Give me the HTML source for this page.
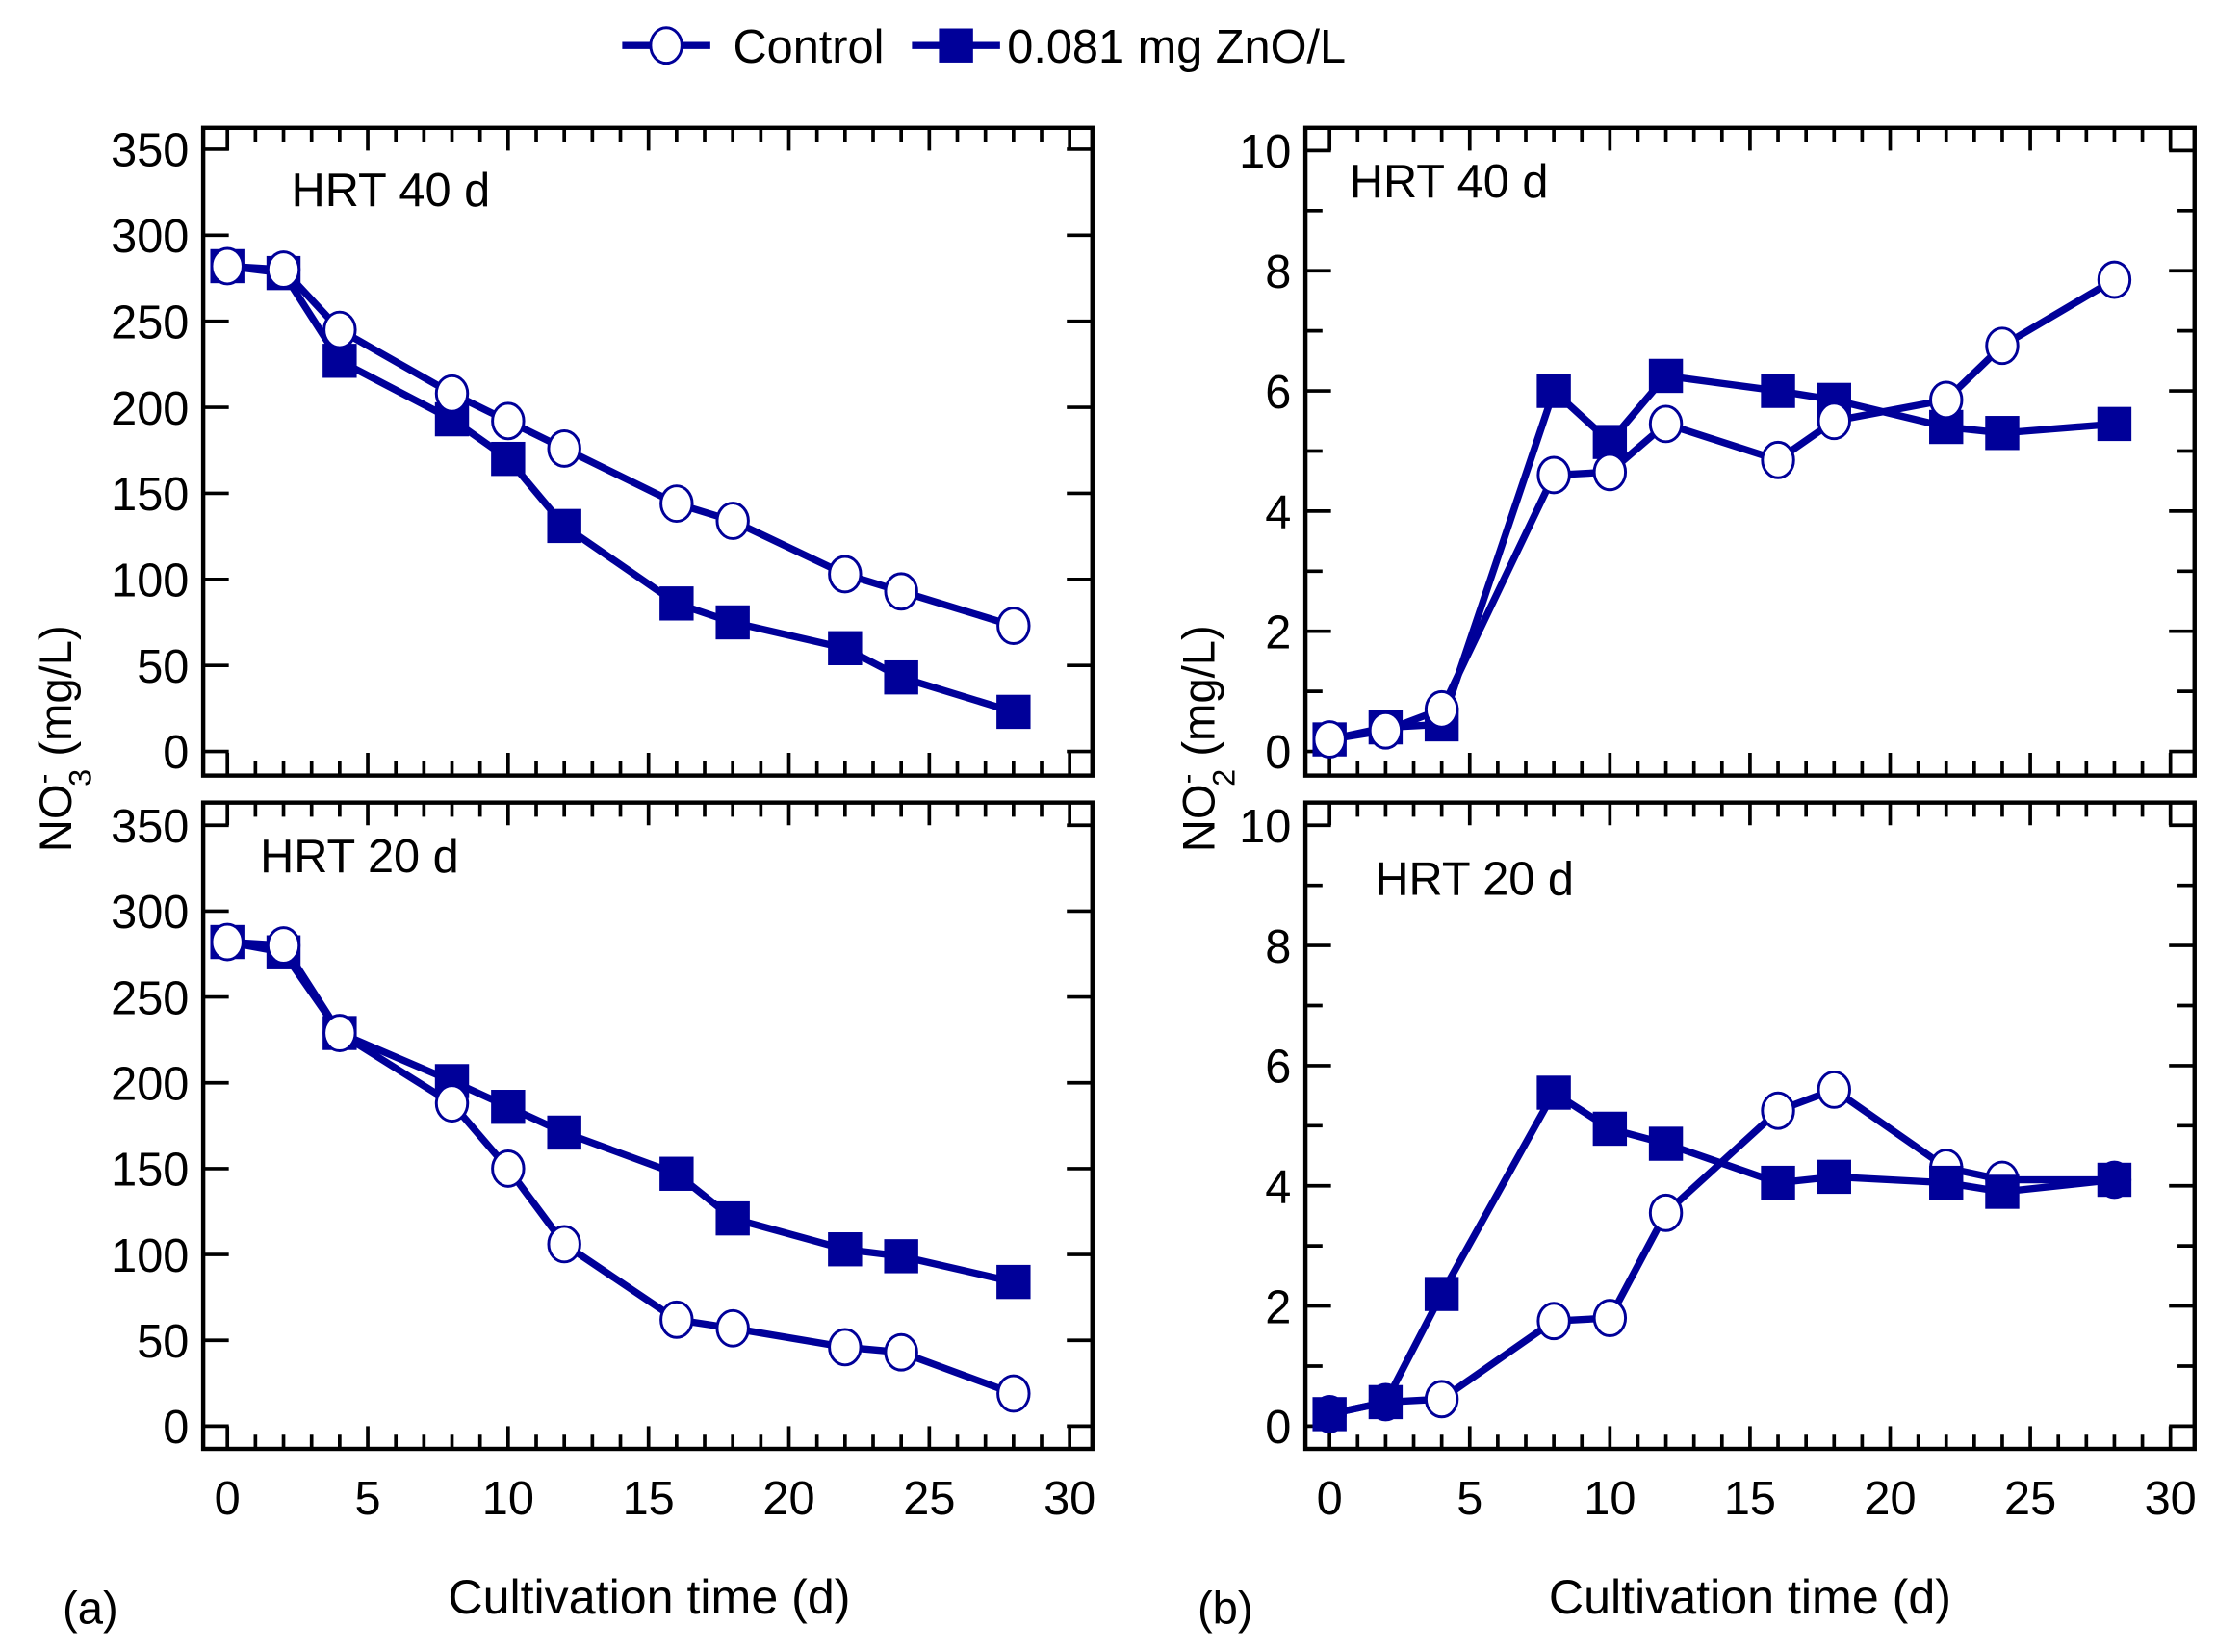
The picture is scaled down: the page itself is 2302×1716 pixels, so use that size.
<!DOCTYPE html>
<html><head><meta charset="utf-8"><style>
html,body{margin:0;padding:0;background:#fff}
svg{display:block}
text{font-family:"Liberation Sans",sans-serif;fill:#000}
</style></head><body>
<svg id="s" width="2302" height="1716" viewBox="0 0 1560 1163" xmlns="http://www.w3.org/2000/svg"></svg>
<script>
const S=document.getElementById('s');let h='';
const C='#000099';
function panel(o){
 const {L,R,T,B,x0,x30,y0,yTop,ymax,ymaj,ymin,labels}=o;
 const X=d=>x0+(x30-x0)*d/30, Y=v=>y0+(yTop-y0)*v/ymax;
 h+=`<rect x="${L}" y="${T}" width="${R-L}" height="${B-T}" fill="none" stroke="#000" stroke-width="3"/>`;
 for(let d=0;d<=30;d++){const x=X(d),len=d%5==0?16:10;
  h+=`<line x1="${x}" y1="${B}" x2="${x}" y2="${B-len}" stroke="#000" stroke-width="2.5"/><line x1="${x}" y1="${T}" x2="${x}" y2="${T+len}" stroke="#000" stroke-width="2.5"/>`;}
 for(let v=0;v<=ymax+1e-9;v+=ymin){const y=Y(v),maj=Math.abs(v/ymaj-Math.round(v/ymaj))<1e-6,len=maj?18:12;
  h+=`<line x1="${L}" y1="${y}" x2="${L+len}" y2="${y}" stroke="#000" stroke-width="2.5"/><line x1="${R}" y1="${y}" x2="${R-len}" y2="${y}" stroke="#000" stroke-width="2.5"/>`;
  if(maj) h+=`<text x="${L-10}" y="${y+12}" font-size="33" text-anchor="end">${Math.round(v)}</text>`;}
 if(labels) for(let d=0;d<=30;d+=5) h+=`<text x="${X(d)}" y="${B+46}" font-size="33" text-anchor="middle">${d}</text>`;
 const line=(pts)=>`<polyline points="${pts.map(p=>X(p[0])+','+Y(p[1])).join(' ')}" fill="none" stroke="${C}" stroke-width="5" stroke-linejoin="round"/>`;
 const sq=pts=>pts.map(p=>`<rect x="${X(p[0])-12}" y="${Y(p[1])-12}" width="24" height="24" fill="${C}"/>`).join('');
 const ci=pts=>pts.map(p=>`<ellipse cx="${X(p[0])}" cy="${Y(p[1])}" rx="11" ry="12.5" fill="#fff" stroke="${C}" stroke-width="2"/>`).join('');
 h+=line(o.z)+line(o.c);
 if(o.sqTop) h+=ci(o.c)+sq(o.z); else h+=sq(o.z)+ci(o.c);
 h+=`<text x="${o.lx}" y="${o.ly}" font-size="33">${o.lab}</text>`;
}
const D=[0,2,4,8,10,12,16,18,22,24,28];
const z=a=>D.map((d,i)=>[d,a[i]]);
panel({L:143,R:769,T:90,B:546,x0:160,x30:753,y0:529,yTop:105,ymax:350,ymaj:50,ymin:50,labels:false,
 c:z([282,280,245,208,192,176,144,134,103,93,73]),z:z([282,278,227,193,170,131,86,75,60,43,23]),lab:'HRT 40 d',lx:205,ly:145});
panel({L:143,R:769,T:565,B:1020,x0:160,x30:753,y0:1004,yTop:581,ymax:350,ymaj:50,ymin:50,labels:true,
 c:z([282,280,229,188,150,106,62,57,46,43,19]),z:z([282,276,229,201,186,171,147,121,103,99,84]),lab:'HRT 20 d',lx:183,ly:614});
panel({L:919,R:1545,T:90,B:546,x0:936,x30:1528,y0:529,yTop:106,ymax:10,ymaj:2,ymin:1,labels:false,
 c:z([0.2,0.35,0.7,4.6,4.65,5.45,4.85,5.5,5.85,6.75,7.85]),z:z([0.2,0.4,0.45,6.0,5.15,6.25,6.0,5.85,5.4,5.3,5.45]),lab:'HRT 40 d',lx:950,ly:139});
panel({L:919,R:1545,T:565,B:1020,x0:936,x30:1528,y0:1004,yTop:581,ymax:10,ymaj:2,ymin:1,labels:true,sqTop:true,
 c:z([0.2,0.4,0.45,1.75,1.8,3.55,5.25,5.6,4.3,4.1,4.1]),z:z([0.2,0.4,2.2,5.55,4.95,4.7,4.05,4.15,4.05,3.9,4.1]),lab:'HRT 20 d',lx:968,ly:630});
h+=`<text transform="translate(50,520) rotate(-90)" font-size="32" text-anchor="middle">NO<tspan dy="-12" font-size="22">-</tspan><tspan dx="-9" dy="26" font-size="22">3</tspan><tspan dy="-14"> (mg/L)</tspan></text>`;
h+=`<text transform="translate(855,520) rotate(-90)" font-size="32" text-anchor="middle">NO<tspan dy="-12" font-size="22">-</tspan><tspan dx="-9" dy="26" font-size="22">2</tspan><tspan dy="-14"> (mg/L)</tspan></text>`;
h+=`<text x="457" y="1136" font-size="34" text-anchor="middle">Cultivation time (d)</text>`;
h+=`<text x="1232" y="1136" font-size="34" text-anchor="middle">Cultivation time (d)</text>`;
h+=`<text x="44" y="1143" font-size="32">(a)</text><text x="843" y="1143" font-size="32">(b)</text>`;
h+=`<line x1="438" y1="32" x2="500" y2="32" stroke="${C}" stroke-width="5"/><ellipse cx="469" cy="32" rx="11" ry="12.5" fill="#fff" stroke="${C}" stroke-width="2"/>`;
h+=`<text x="516" y="44" font-size="33">Control</text>`;
h+=`<line x1="642" y1="32" x2="704" y2="32" stroke="${C}" stroke-width="5"/><rect x="661" y="20" width="24" height="24" fill="${C}"/>`;
h+=`<text x="709" y="44" font-size="33">0.081 mg ZnO/L</text>`;
S.innerHTML=h;
</script>
</body></html>
